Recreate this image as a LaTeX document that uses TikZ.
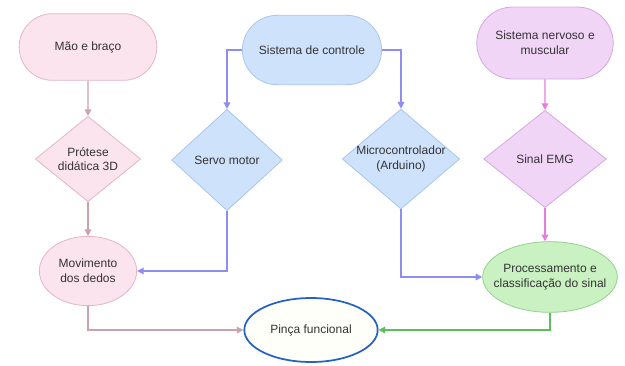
\documentclass[tikz,border=0pt]{standalone}
\usepackage{fontspec}
\setmainfont{Liberation Sans}
\usepackage{xcolor}
\usetikzlibrary{positioning,shapes.geometric,shapes.misc,arrows.meta}

\definecolor{rosaF}{HTML}{FCE4EE}
\definecolor{rosaB}{HTML}{E3B5C6}
\definecolor{rosaL}{HTML}{C9A2AA}
\definecolor{azulF}{HTML}{CFE2FB}
\definecolor{azulB}{HTML}{A6C6EE}
\definecolor{azulL}{HTML}{8E8EF0}
\definecolor{roxoF}{HTML}{F1D5F7}
\definecolor{roxoB}{HTML}{D4A8E2}
\definecolor{roxoL}{HTML}{E67CE0}
\definecolor{verdeF}{HTML}{C9F1C1}
\definecolor{verdeB}{HTML}{92D28A}
\definecolor{verdeL}{HTML}{5CBF5C}
\definecolor{pincaB}{HTML}{2462C2}
\definecolor{texto}{HTML}{333333}

\begin{document}
\begin{tikzpicture}[x=0.75pt, y=-0.75pt,
  font=\fontsize{9}{11}\selectfont, text=texto,
  inicio/.style={draw, rounded rectangle, align=center, line width=0.6pt},
  decisao/.style={draw, diamond, inner sep=0pt, line width=0.6pt,
    label={[align=center, text=texto]center:#1}},
  oval/.style={draw, ellipse, align=center, line width=0.6pt},
  arrow/.style={line width=1pt, -{Triangle[length=5pt, width=5pt]}}
]
  \useasboundingbox (0,0) rectangle (625,365);

  % linha de cima
  \node[inicio, fill=rosaF, draw=rosaB, minimum width=110pt, minimum height=50pt]
    (mao) at (88,47) {Mão e braço};
  \node[inicio, fill=azulF, draw=azulB, minimum width=111pt, minimum height=52pt]
    (controle) at (312,50) {Sistema de controle};
  \node[inicio, fill=roxoF, draw=roxoB, minimum width=109pt, minimum height=54pt]
    (nervoso) at (545,43) {Sistema nervoso e\\muscular};

  % losangos
  \node[decisao={Prótese\\didática 3D}, fill=rosaF, draw=rosaB,
    minimum width=79pt, minimum height=64pt] (protese) at (88,159) {};
  \node[decisao={Servo motor}, fill=azulF, draw=azulB,
    minimum width=83pt, minimum height=76pt] (servo) at (227,160) {};
  \node[decisao={Microcontrolador\\(Arduino)}, fill=azulF, draw=azulB,
    minimum width=88pt, minimum height=75pt] (micro) at (401,159) {};
  \node[decisao={Sinal EMG}, fill=roxoF, draw=roxoB,
    minimum width=92pt, minimum height=73pt] (emg) at (545,159) {};

  % elipses
  \node[oval, fill=rosaF, draw=rosaB, minimum width=73pt, minimum height=52pt]
    (movimento) at (88,271) {Movimento\\dos dedos};
  \node[oval, fill=verdeF, draw=verdeB, inner xsep=-7pt,
    minimum width=101pt, minimum height=53pt]
    (proc) at (550,277) {Processamento e\\classificação do sinal};
  \node[oval, fill=white!98!yellow, draw=pincaB, line width=1.3pt,
    minimum width=100pt, minimum height=48pt] (pinca) at (311,330) {Pinça funcional};

  % conexoes
  \draw[arrow, rosaL] (mao) -- (protese);
  \draw[arrow, rosaL] (protese) -- (movimento);
  \draw[arrow, azulL] (controle.west) -| (servo.north);
  \draw[arrow, azulL] (controle.east) -| (micro.north);
  \draw[arrow, roxoL] (nervoso) -- (emg);
  \draw[arrow, roxoL] (emg) -- (emg |- proc.north);
  \draw[arrow, azulL] (servo.south) |- (movimento.east);
  \draw[arrow, azulL] (micro.south) |- (proc.west);
  \draw[arrow, rosaL] (movimento.south) |- (pinca.west);
  \draw[arrow, verdeL] (proc.south) |- (pinca.east);
\end{tikzpicture}
\end{document}
